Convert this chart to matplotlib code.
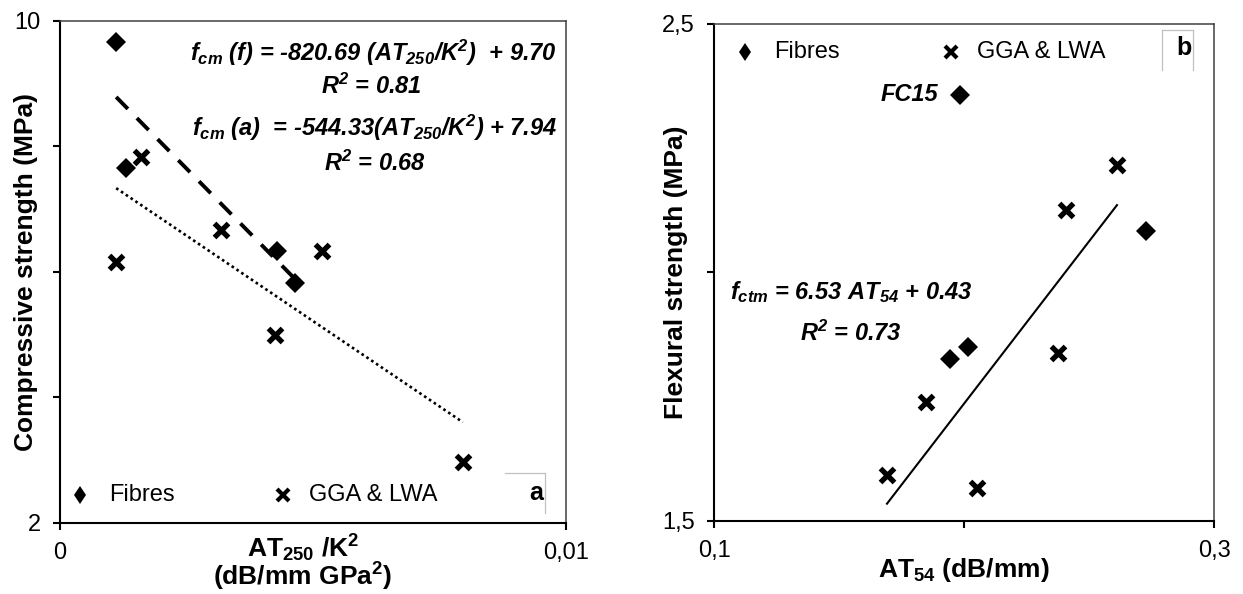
import numpy as np
import matplotlib
matplotlib.use("Agg")
import matplotlib.pyplot as plt

plt.rcParams['font.family'] = ['Liberation Sans', 'DejaVu Sans']
plt.rcParams['mathtext.fontset'] = 'custom'
plt.rcParams['mathtext.rm'] = 'Liberation Sans:bold:italic'
plt.rcParams['mathtext.it'] = 'Liberation Sans:bold:italic'
plt.rcParams['mathtext.bf'] = 'Liberation Sans:bold'

# (a) compressive strength vs AT250/K^2
fib_a_x = [0.00111, 0.00131, 0.00428, 0.00464]
fib_a_y = [9.67, 7.66, 6.33, 5.82]
gga_a_x = [0.00111, 0.00160, 0.00318, 0.00425, 0.00517, 0.00796]
gga_a_y = [6.16, 7.83, 6.67, 5.00, 6.33, 2.97]
fit_fib_a = (-820.69, 9.70)
fit_gga_a = (-544.33, 7.94)

# (b) flexural strength vs AT54
fib_b_x = [0.1984, 0.2014, 0.1942, 0.2728]
fib_b_y = [2.358, 1.851, 1.826, 2.083]
gga_b_x = [0.1692, 0.1846, 0.2052, 0.2374, 0.2408, 0.2612]
gga_b_y = [1.593, 1.740, 1.566, 1.839, 2.126, 2.216]
fit_b = (6.53, 0.43)

fig = plt.figure(figsize=(12.43, 5.94), dpi=100)
ax1 = fig.add_axes([0.04827, 0.11953, 0.40708, 0.84512])
ax2 = fig.add_axes([0.57442, 0.12290, 0.40225, 0.83670])

dmk = dict(marker='D', color='black', ms=10.5, mew=0, linestyle='none')
xmk = dict(marker='x', color='black', ms=10.5, mew=3.8, linestyle='none')


def style_axes(ax):
    for s in ['left', 'bottom']:
        ax.spines[s].set_linewidth(1.5)
        ax.spines[s].set_color('black')
    for s in ['top', 'right']:
        ax.spines[s].set_linewidth(1.1)
        ax.spines[s].set_color('#404040')
    ax.tick_params(direction='out', length=5, width=1.5, labelsize=17, pad=9,
                   top=False, right=False)


def legend_row(ax, fx1, fx2, fy):
    ax.plot([fx1], [fy], marker='d', color='black', ms=9.5, mew=0,
            transform=ax.transAxes, clip_on=False)
    ax.text(fx1 + 0.057, fy, 'Fibres', transform=ax.transAxes, fontsize=17,
            va='center', ha='left')
    ax.plot([fx2], [fy], marker='x', color='black', ms=8, mew=3,
            transform=ax.transAxes, clip_on=False)
    ax.text(fx2 + 0.051, fy, 'GGA & LWA', transform=ax.transAxes, fontsize=17,
            va='center', ha='left')


def tag_box(ax, label, x0, x1, ytop, ybot, tx, ty, sides):
    ax.text(tx, ty, label, transform=ax.transAxes, fontsize=18,
            fontweight='bold', ha='center', va='center')
    if 'top' in sides:
        ax.plot([x0, x1], [ytop, ytop], color='#c0c0c0', lw=0.9,
                transform=ax.transAxes)
    if 'left' in sides:
        ax.plot([x0, x0], [ytop, ybot], color='#c0c0c0', lw=0.9,
                transform=ax.transAxes)
    if 'right' in sides:
        ax.plot([x1, x1], [ytop, ybot], color='#c0c0c0', lw=0.9,
                transform=ax.transAxes)


# ---- panel a ----
ax1.plot(fib_a_x, fib_a_y, **dmk)
ax1.plot(gga_a_x, gga_a_y, **xmk)

xf = np.array([min(fib_a_x), max(fib_a_x)])
ax1.plot(xf, fit_fib_a[0] * xf + fit_fib_a[1], color='black', lw=2.8,
         linestyle=(0, (4.3, 3.3)))
xg = np.array([min(gga_a_x), max(gga_a_x)])
ax1.plot(xg, fit_gga_a[0] * xg + fit_gga_a[1], color='black', lw=1.9,
         linestyle=(0, (1, 1.2)))

ax1.set_xlim(0, 0.01)
ax1.set_ylim(2, 10)
ax1.set_xticks([0, 0.01])
ax1.set_xticklabels(['0', '0,01'])
ax1.set_yticks([2, 4, 6, 8, 10])
ax1.set_yticklabels(['2', '', '', '', '10'])
style_axes(ax1)

eq = dict(transform=ax1.transAxes, fontsize=17, fontweight='bold',
          style='italic', ha='center', va='center')
ax1.text(0.6186, 0.9363,
         r'$f_{cm}$ (f) = -820.69 (AT$_{250}$/K$^{2}$)  + 9.70', **eq)
ax1.text(0.6146, 0.8705, r'R$^{2}$ = 0.81', **eq)
ax1.text(0.6225, 0.7869,
         r'$f_{cm}$ (a)  = -544.33(AT$_{250}$/K$^{2}$) + 7.94', **eq)
ax1.text(0.6225, 0.7171, r'R$^{2}$ = 0.68', **eq)

legend_row(ax1, 0.0401, 0.4415, 0.0558)
tag_box(ax1, 'a', 0.8794, 0.9585, 0.1002, 0.0199, 0.9407, 0.0598,
        ['top', 'right'])

ax1.set_ylabel('Compressive strength (MPa)', fontsize=19, fontweight='bold')
ax1.yaxis.set_label_coords(-0.043, 0.5)
ax1.set_xlabel('AT$_{\\mathbf{250}}$ /K$^{\\mathbf{2}}$\n(dB/mm GPa$^{\\mathbf{2}}$)',
               fontsize=19, fontweight='bold', linespacing=0.85)
ax1.xaxis.set_label_coords(0.48, -0.020)

# ---- panel b ----
ax2.plot(fib_b_x, fib_b_y, **dmk)
ax2.plot(gga_b_x, gga_b_y, **xmk)

xb = np.array([min(gga_b_x), max(gga_b_x)])
ax2.plot(xb, fit_b[0] * xb + fit_b[1], color='black', lw=1.5)

ax2.annotate('FC15', (fib_b_x[0], fib_b_y[0]), xytext=(-16, 0),
             textcoords='offset points', fontsize=17, fontweight='bold',
             style='italic', ha='right', va='center')

ax2.set_xlim(0.1, 0.3)
ax2.set_ylim(1.5, 2.5)
ax2.set_xticks([0.1, 0.2, 0.3])
ax2.set_xticklabels(['0,1', '', '0,3'])
ax2.set_yticks([1.5, 2.0, 2.5])
ax2.set_yticklabels(['1,5', '', '2,5'])
style_axes(ax2)

eqb = dict(transform=ax2.transAxes, fontsize=17, fontweight='bold',
           style='italic', ha='center', va='center')
ax2.text(0.274, 0.4608, r'$f_{ctm}$ = 6.53 AT$_{54}$ + 0.43', **eqb)
ax2.text(0.274, 0.3783, r'R$^{2}$ = 0.73', **eqb)

legend_row(ax2, 0.0628, 0.474, 0.9443)
tag_box(ax2, 'b', 0.8966, 0.9574, 0.9879, 0.9074, 0.940, 0.9517,
        ['top', 'left', 'right'])

ax2.set_ylabel('Flexural strength (MPa)', fontsize=19, fontweight='bold')
ax2.yaxis.set_label_coords(-0.052, 0.5)
ax2.set_xlabel('AT$_{\\mathbf{54}}$ (dB/mm)', fontsize=19, fontweight='bold')
ax2.xaxis.set_label_coords(0.5, -0.070)

fig.savefig('out.png', dpi=100)
